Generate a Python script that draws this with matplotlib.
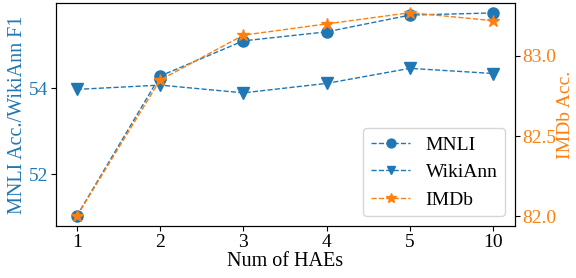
import matplotlib
matplotlib.use("Agg")
import matplotlib.pyplot as plt

plt.rcParams["font.family"] = ["Liberation Serif", "DejaVu Serif"]
plt.rcParams["mathtext.fontset"] = "stix"

# number of HAEs
hae_labels = ["1", "2", "3", "4", "5", "10"]
mnli_acc = [51.02, 54.28, 55.10, 55.31, 55.70, 55.75]
wikiann_f1 = [53.97, 54.07, 53.89, 54.11, 54.46, 54.34]
imdb_acc = [82.00, 82.85, 83.13, 83.20, 83.27, 83.22]

blue = "#1f77b4"
orange = "#ff7f0e"
fs = 14

fig, ax = plt.subplots(figsize=(5.76, 2.78), dpi=100)
fig.subplots_adjust(left=0.097, right=0.894, bottom=0.187, top=0.989)
ax2 = ax.twinx()

x = list(range(len(hae_labels)))
l1, = ax.plot(x, mnli_acc, "o--", color=blue, lw=1, ms=8, label="MNLI")
l2, = ax.plot(x, wikiann_f1, "v--", color=blue, lw=1, ms=8, label="WikiAnn")
l3, = ax2.plot(x, imdb_acc, "*--", color=orange, lw=1, ms=9, label="IMDb")

ax.set_xticks(x)
ax.set_xticklabels(hae_labels)
ax.set_xlim(-0.25, 5.26)
ax.set_ylim(50.79, 55.98)
ax.set_yticks([52, 54])
ax2.set_ylim(81.94, 83.33)
ax2.set_yticks([82.0, 82.5, 83.0])
ax2.set_yticklabels(["82.0", "82.5", "83.0"])

ax.set_xlabel("Num of HAEs", fontsize=fs + 0.5, labelpad=1)
ax.set_ylabel("MNLI Acc./WikiAnn F1", color=blue, fontsize=fs + 0.5, labelpad=1)
ax2.set_ylabel("IMDb Acc.", color=orange, fontsize=fs, labelpad=0)

ax.tick_params(axis="x", labelsize=fs, pad=2)
ax.tick_params(axis="y", labelsize=fs, labelcolor=blue, pad=2)
ax2.tick_params(axis="y", labelsize=fs, labelcolor=orange, pad=2)

ax.legend(handles=[l1, l2, l3], loc="lower right", fontsize=fs, markerscale=0.8,
          borderaxespad=0.5)

fig.savefig("out.png", dpi=100)
